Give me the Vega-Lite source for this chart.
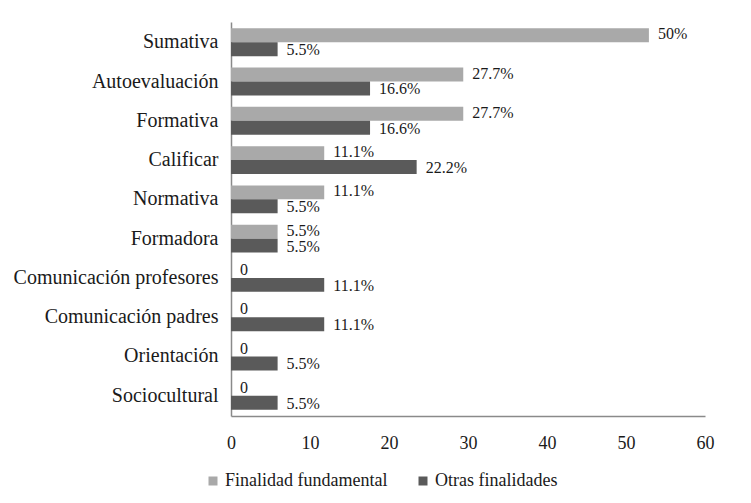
{
  "$schema": "https://vega.github.io/schema/vega-lite/v6.json",
  "autosize": "none",
  "width": 474,
  "height": 394,
  "padding": {"left": 231, "top": 22, "right": 46, "bottom": 87},
  "background": "white",
  "config": {
    "font": "Liberation Serif",
    "view": {"stroke": null},
    "axis": {"grid": false, "ticks": false, "domainColor": "#8a8a8a", "domainWidth": 1.5, "labelColor": "#1a1a1a", "labelFont": "Liberation Serif"},
    "legend": {"labelFont": "Liberation Serif"}
  },
  "data": {
    "values": [
      {"cat": "Sumativa", "serie": "Finalidad fundamental", "value": 52.9, "label": "50%"},
      {"cat": "Sumativa", "serie": "Otras finalidades", "value": 5.9, "label": "5.5%"},
      {"cat": "Autoevaluación", "serie": "Finalidad fundamental", "value": 29.4, "label": "27.7%"},
      {"cat": "Autoevaluación", "serie": "Otras finalidades", "value": 17.6, "label": "16.6%"},
      {"cat": "Formativa", "serie": "Finalidad fundamental", "value": 29.4, "label": "27.7%"},
      {"cat": "Formativa", "serie": "Otras finalidades", "value": 17.6, "label": "16.6%"},
      {"cat": "Calificar", "serie": "Finalidad fundamental", "value": 11.8, "label": "11.1%"},
      {"cat": "Calificar", "serie": "Otras finalidades", "value": 23.5, "label": "22.2%"},
      {"cat": "Normativa", "serie": "Finalidad fundamental", "value": 11.8, "label": "11.1%"},
      {"cat": "Normativa", "serie": "Otras finalidades", "value": 5.9, "label": "5.5%"},
      {"cat": "Formadora", "serie": "Finalidad fundamental", "value": 5.9, "label": "5.5%"},
      {"cat": "Formadora", "serie": "Otras finalidades", "value": 5.9, "label": "5.5%"},
      {"cat": "Comunicación profesores", "serie": "Finalidad fundamental", "value": 0, "label": "0"},
      {"cat": "Comunicación profesores", "serie": "Otras finalidades", "value": 11.8, "label": "11.1%"},
      {"cat": "Comunicación padres", "serie": "Finalidad fundamental", "value": 0, "label": "0"},
      {"cat": "Comunicación padres", "serie": "Otras finalidades", "value": 11.8, "label": "11.1%"},
      {"cat": "Orientación", "serie": "Finalidad fundamental", "value": 0, "label": "0"},
      {"cat": "Orientación", "serie": "Otras finalidades", "value": 5.9, "label": "5.5%"},
      {"cat": "Sociocultural", "serie": "Finalidad fundamental", "value": 0, "label": "0"},
      {"cat": "Sociocultural", "serie": "Otras finalidades", "value": 5.9, "label": "5.5%"}
    ]
  },
  "encoding": {
    "y": {
      "field": "cat", "type": "nominal", "sort": null,
      "scale": {"paddingInner": 0.29, "paddingOuter": 0.16},
      "axis": {"title": null, "labelFontSize": 20, "labelPadding": 13, "labelLimit": 300}
    },
    "yOffset": {
      "field": "serie", "type": "nominal",
      "sort": ["Finalidad fundamental", "Otras finalidades"],
      "scale": {"paddingInner": 0, "paddingOuter": 0}
    },
    "x": {
      "field": "value", "type": "quantitative",
      "scale": {"domain": [0, 60], "nice": false},
      "axis": {"title": null, "values": [0, 10, 20, 30, 40, 50, 60], "labelFontSize": 18, "labelPadding": 18, "labelFlush": false}
    }
  },
  "layer": [
    {
      "mark": {"type": "bar"},
      "encoding": {
        "color": {
          "field": "serie", "type": "nominal",
          "scale": {"domain": ["Finalidad fundamental", "Otras finalidades"], "range": ["#a9a9a9", "#5a5a5a"]},
          "legend": {
            "title": null, "orient": "none", "direction": "horizontal",
            "legendX": -27, "legendY": 450,
            "symbolType": "square", "symbolSize": 81, "symbolStrokeWidth": 0,
            "labelFontSize": 18, "labelOffset": 3, "labelLimit": 400, "columnPadding": 26, "labelColor": "#1a1a1a"
          }
        }
      }
    },
    {
      "transform": [{"filter": "datum.serie === 'Finalidad fundamental'"}],
      "mark": {"type": "text", "align": "left", "baseline": "middle", "dx": 9, "dy": -1, "fontSize": 16, "color": "#1a1a1a"},
      "encoding": {"text": {"field": "label"}}
    },
    {
      "transform": [{"filter": "datum.serie === 'Otras finalidades'"}],
      "mark": {"type": "text", "align": "left", "baseline": "middle", "dx": 9, "dy": 1, "fontSize": 16, "color": "#1a1a1a"},
      "encoding": {"text": {"field": "label"}}
    }
  ]
}
